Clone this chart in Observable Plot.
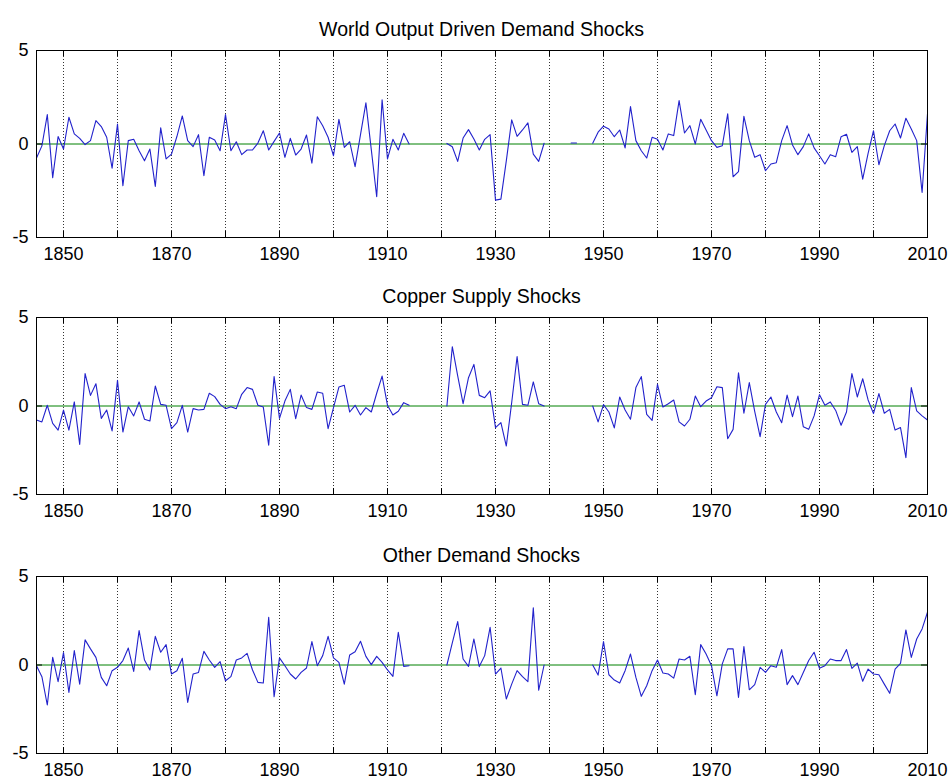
<!DOCTYPE html>
<html>
<head>
<meta charset="utf-8">
<script src="https://cdn.jsdelivr.net/npm/d3@7"></script>
<script src="https://cdn.jsdelivr.net/npm/@observablehq/plot@0.6"></script>
<style>
  html, body { margin: 0; padding: 0; background: #fff; }
  #chart {
    position: relative; width: 952px; height: 779px; overflow: hidden;
    background: #fff; font-family: "Liberation Sans", Arial, sans-serif; color: #000;
  }
  .panel-title {
    position: absolute; text-align: center; font-size: 19.5px; line-height: 22px;
    white-space: nowrap;
  }
  #chart svg { position: absolute; left: 0; }
</style>
</head>
<body>
<div id="chart"></div>
<script>
// Annual structural shocks, 1845-2010 (null = no observation for that year)
const years = d3.range(1845, 2011);

const worldOutputShocks = [
  // 1845-1854
  -0.75, -0.1, 1.57, -1.8, 0.4, -0.27, 1.43, 0.54, 0.3, -0.03,
  // 1855-1864
  0.18, 1.25, 0.93, 0.36, -1.29, 1.07, -2.23, 0.18, 0.25, -0.36,
  // 1865-1874
  -0.9, -0.27, -2.27, 0.86, -0.8, -0.54, 0.4, 1.5, 0.18, -0.14,
  // 1875-1884
  0.5, -1.7, 0.36, 0.21, -0.36, 1.57, -0.36, 0.12, -0.57, -0.32,
  // 1885-1894
  -0.32, 0.05, 0.71, -0.32, 0.14, 0.59, -0.71, 0.3, -0.59, -0.27,
  // 1895-1904
  0.48, -1.02, 1.46, 0.98, 0.36, -0.63, 1.32, -0.18, 0.12, -1.21,
  // 1905-1914
  0.5, 2.2, -0.3, -2.82, 2.36, -0.8, 0.25, -0.32, 0.57, 0.0,
  // 1915-1924
  null, null, null, null, null, null, 0.03, -0.15, -0.93, 0.32,
  // 1925-1934
  0.77, 0.27, -0.32, 0.25, 0.5, -3.0, -2.95, -0.9, 1.29, 0.41,
  // 1935-1944
  0.75, 1.13, -0.54, -0.93, 0.04, null, null, null, null, 0.05,
  // 1945-1954
  0.05, null, null, 0.04, 0.63, 0.95, 0.8, 0.39, 0.75, -0.21,
  // 1955-1964
  2.0, 0.18, -0.36, -0.75, 0.36, 0.25, -0.32, 0.54, 0.45, 2.32,
  // 1965-1974
  0.59, 0.98, 0.0, 1.32, 0.75, 0.18, -0.18, -0.09, 1.61, -1.75,
  // 1975-1984
  -1.48, 1.48, 0.18, -0.71, -0.57, -1.43, -1.07, -1.0, 0.18, 0.98,
  // 1985-1994
  -0.05, -0.57, -0.14, 0.54, -0.21, -0.63, -1.07, -0.57, -0.68, 0.39,
  // 1995-2004
  0.52, -0.45, -0.14, -1.88, -0.5, 0.71, -1.11, -0.09, 0.71, 1.07,
  // 2005-2010
  0.32, 1.38, 0.8, 0.18, -2.59, 1.61
];

const copperSupplyShocks = [
  // 1845-1854
  -0.79, -0.9, 0.04, -0.98, -1.36, -0.23, -1.36, 0.23, -2.17, 1.83,
  // 1855-1864
  0.6, 1.26, -0.7, -0.23, -1.41, 1.45, -1.47, -0.04, -0.56, 0.23,
  // 1865-1874
  -0.75, -0.85, 1.13, 0.09, 0.04, -1.28, -0.94, 0.04, -1.47, -0.15,
  // 1875-1884
  -0.23, -0.19, 0.72, 0.53, 0.09, -0.15, -0.04, -0.15, 0.66, 1.04,
  // 1885-1894
  0.94, 0.04, -0.06, -2.22, 1.66, -0.7, 0.28, 0.94, -0.72, 0.62,
  // 1895-1904
  -0.09, -0.19, 0.79, 0.72, -1.28, -0.09, 1.07, 1.17, -0.34, 0.04,
  // 1905-1914
  -0.51, -0.09, -0.34, 0.72, 1.69, 0.04, -0.51, -0.3, 0.19, 0.04,
  // 1915-1924
  null, null, null, null, null, null, 0.0, 3.35, 1.7, 0.13,
  // 1925-1934
  1.6, 2.35, 0.6, 0.47, 0.85, -1.22, -0.94, -2.26, 0.2, 2.79,
  // 1935-1944
  0.09, 0.04, 1.36, 0.13, 0.0, null, null, null, null, null,
  // 1945-1954
  null, null, null, 0.0, -0.9, 0.08, -0.34, -1.24, 0.51, -0.23,
  // 1955-1964
  -0.75, 1.04, 1.66, -0.47, -0.81, 1.22, -0.06, 0.13, 0.34, -0.9,
  // 1965-1974
  -1.13, -0.75, 0.56, -0.04, 0.28, 0.47, 1.09, 1.04, -1.85, -1.32,
  // 1975-1984
  1.88, -0.41, 1.32, -0.3, -1.73, 0.09, 0.51, -0.34, -0.94, 0.62,
  // 1985-1994
  -0.6, 0.56, -1.17, -1.32, -0.56, 0.64, 0.04, 0.23, -0.25, -1.09,
  // 1995-2004
  -0.34, 1.83, 0.51, 1.54, 0.34, -0.43, 0.7, -0.41, -0.19, -1.36,
  // 2005-2010
  -1.22, -2.92, 1.04, -0.28, -0.56, -0.79
];

const otherDemandShocks = [
  // 1845-1854
  -0.04, -0.66, -2.26, 0.43, -0.94, 0.7, -1.55, 0.81, -1.08, 1.42,
  // 1855-1864
  0.91, 0.43, -0.7, -1.17, -0.32, -0.13, 0.25, 0.96, -0.36, 1.94,
  // 1865-1874
  0.28, -0.28, 1.62, 0.72, 1.15, -0.51, -0.32, 0.38, -2.11, -0.51,
  // 1875-1884
  -0.42, 0.77, 0.28, -0.13, 0.19, -0.89, -0.66, 0.28, 0.4, 0.66,
  // 1885-1894
  -0.28, -0.98, -1.02, 2.7, -1.79, 0.4, -0.04, -0.51, -0.79, -0.42,
  // 1895-1904
  -0.17, 1.32, -0.04, 0.53, 1.62, 0.4, 0.15, -1.08, 0.57, 0.75,
  // 1905-1914
  1.34, 0.49, 0.02, 0.49, 0.15, -0.28, -0.64, 1.85, -0.08, -0.04,
  // 1915-1924
  null, null, null, null, null, null, 0.0, 1.25, 2.45, 0.34,
  // 1925-1934
  -0.08, 1.47, -0.09, 0.53, 2.13, -0.51, -0.17, -1.92, -1.08, -0.32,
  // 1935-1944
  -0.66, -0.94, 3.23, -1.42, 0.0, null, null, null, null, null,
  // 1945-1954
  null, null, null, 0.0, -0.57, 1.32, -0.55, -0.85, -1.02, -0.32,
  // 1955-1964
  0.62, -0.7, -1.77, -1.17, -0.32, 0.28, -0.45, -0.51, -0.74, 0.34,
  // 1965-1974
  0.28, 0.49, -1.68, 1.15, 0.62, -0.04, -1.74, 0.06, 0.91, 0.91,
  // 1975-1984
  -1.83, 1.04, -1.4, -1.11, -0.13, -0.42, -0.04, -0.13, 0.87, -1.11,
  // 1985-1994
  -0.6, -1.11, -0.42, 0.25, 0.72, -0.19, -0.04, 0.34, 0.25, 0.25,
  // 1995-2004
  0.87, -0.19, 0.11, -0.92, -0.23, -0.51, -0.55, -1.08, -1.6, -0.23,
  // 2005-2010
  0.09, 1.98, 0.43, 1.47, 2.04, 2.98
];

const panelTitles = ["World Output Driven Demand Shocks", "Copper Supply Shocks", "Other Demand Shocks"];
const panelSeries = [worldOutputShocks, copperSupplyShocks, otherDemandShocks];

// Axis ticks
const yearDomain = [1845, 2010];
const shockDomain = [-5, 5];
const decadeTicks = d3.range(1850, 2011, 10);
const labelTicks = [1850, 1870, 1890, 1910, 1930, 1950, 1970, 1990, 2010];
const shockTicks = [-5, 0, 5];

// Layout of the three stacked axes (pixel positions of each frame)
const frameTops = [50, 317, 576];
const frameBottoms = [237, 494, 753];
const marginLeft = 36, marginRight = 25, marginTop = 8, marginBottom = 32;
const tickLen = 6;

const chart = document.getElementById("chart");

panelSeries.forEach((series, k) => {
  const plotHeight = frameBottoms[k] - frameTops[k];
  const svg = Plot.plot({
    width: 952,
    height: plotHeight + marginTop + marginBottom,
    marginLeft, marginRight, marginTop, marginBottom,
    style: {
      fontFamily: '"Liberation Sans", Arial, sans-serif',
      fontSize: "18px",
      color: "#000",
      background: "transparent",
      overflow: "visible"
    },
    x: {domain: yearDomain},
    y: {domain: shockDomain},
    marks: [
      // dotted vertical grid at each decade
      Plot.ruleX(decadeTicks, {x: d => d, stroke: "#000", strokeDasharray: "1,2", strokeOpacity: 0.8}),
      // zero reference
      Plot.ruleY([0], {stroke: "#008000", strokeWidth: 1}),
      // shock series (gaps where null)
      Plot.lineY(series, {x: years, stroke: "#2222cc", strokeWidth: 1.1}),
      // inward tick marks on all four sides
      Plot.ruleX(decadeTicks, {x: d => d, y1: shockDomain[0], y2: shockDomain[0], insetBottom: tickLen, stroke: "#000"}),
      Plot.ruleX(decadeTicks, {x: d => d, y1: shockDomain[1], y2: shockDomain[1], insetTop: tickLen, stroke: "#000"}),
      Plot.ruleY(shockTicks, {y: d => d, x1: yearDomain[0], x2: yearDomain[0], insetLeft: tickLen, stroke: "#000"}),
      Plot.ruleY(shockTicks, {y: d => d, x1: yearDomain[1], x2: yearDomain[1], insetRight: tickLen, stroke: "#000"}),
      Plot.frame({stroke: "#000"}),
      Plot.axisX(labelTicks, {anchor: "bottom", tickSize: 0, tickPadding: 10, tickFormat: d => String(d), label: null}),
      Plot.axisY(shockTicks, {anchor: "left", tickSize: 0, tickPadding: 8, tickFormat: d => String(d), label: null})
    ]
  });
  svg.style.top = (frameTops[k] - marginTop) + "px";
  chart.appendChild(svg);

  const title = document.createElement("div");
  title.className = "panel-title";
  title.textContent = panelTitles[k];
  title.style.left = marginLeft + "px";
  title.style.width = (952 - marginLeft - marginRight) + "px";
  title.style.top = (frameTops[k] - 32) + "px";
  chart.appendChild(title);
});
</script>
</body>
</html>
